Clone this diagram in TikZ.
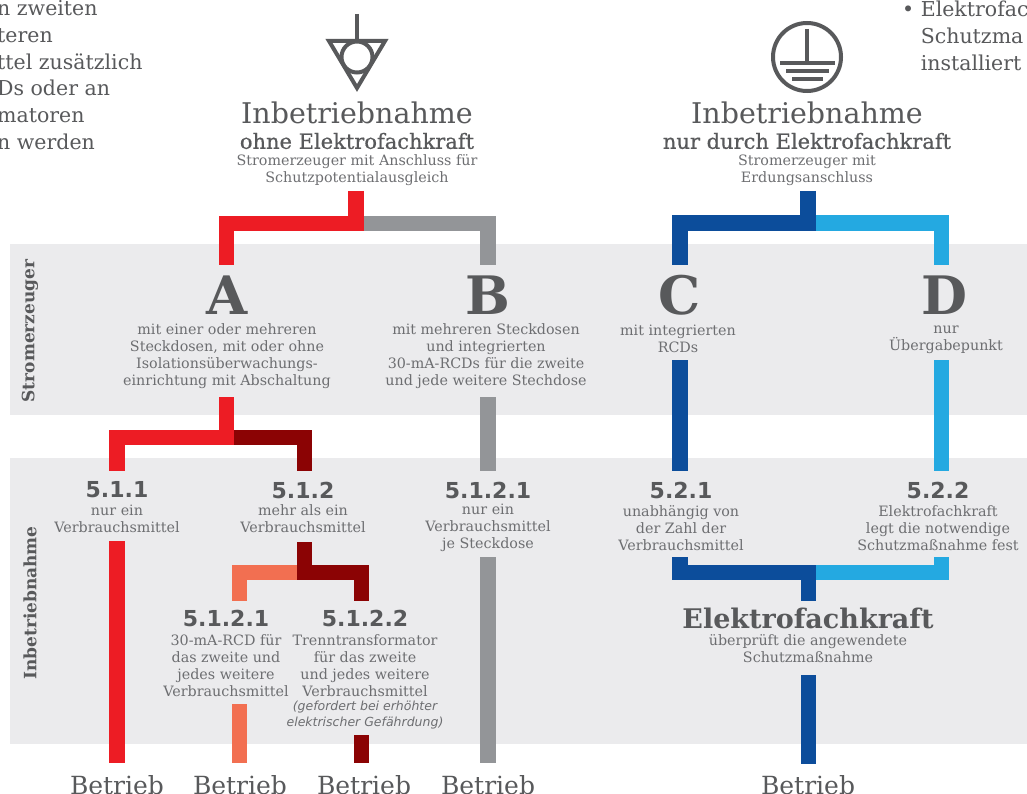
\documentclass[tikz,border=0pt]{standalone}
\usepackage{fontspec}
\setmainfont{DejaVu Serif}
\newfontfamily\numfont{DejaVu Sans}
\newfontfamily\medfont[FakeBold=0.6]{DejaVu Serif}
\definecolor{band}{HTML}{EBEBED}
\definecolor{txtdark}{HTML}{58595B}
\definecolor{txtlight}{HTML}{6D6E71}
\definecolor{cred}{HTML}{ED1C24}
\definecolor{cgray}{HTML}{939598}
\definecolor{cdred}{HTML}{8B0304}
\definecolor{csalmon}{HTML}{F26F51}
\definecolor{cdblue}{HTML}{0C4D9B}
\definecolor{clblue}{HTML}{24A9E1}
\tikzset{
  small/.style={font=\fontsize{14.3}{17}\selectfont, text=txtlight, align=center, inner sep=0pt},
  title/.style={font=\fontsize{28.5}{30}\selectfont, text=txtdark, inner sep=0pt},
  subtitle/.style={font=\medfont\fontsize{21}{22}\selectfont, text=txtdark, inner sep=0pt},
  letter/.style={font=\fontsize{53}{53}\selectfont\bfseries, text=txtdark, inner sep=0pt, anchor=base, text depth=0pt},
  num/.style={font=\numfont\bfseries\fontsize{22}{22}\selectfont, text=txtdark, inner sep=0pt},
  betr/.style={font=\fontsize{25}{26}\selectfont, text=txtdark, inner sep=0pt},
  sidelabel/.style={font=\fontsize{17}{18}\selectfont\bfseries, text=txtdark, inner sep=0pt, rotate=90},
  para/.style={font=\fontsize{20.5}{26.7}\selectfont, text=txtdark, align=left, inner sep=0pt},
  bar/.style={line width=15.5pt, line cap=butt, line join=miter},
  sym/.style={line width=4pt, draw=txtdark}
}
\begin{document}
\begin{tikzpicture}[x=1pt,y=-1pt]
\useasboundingbox (0,0) rectangle (1027,794);
% background bands
\fill[band] (10,244) rectangle (1027,415);
\fill[band] (10,458) rectangle (1027,744);

% partial paragraphs at the top edges
\node[para, anchor=west] (pl) at (-3,75) {n zweiten\\teren\\ttel zusätzlich\\Ds oder an\\matoren\\n werden};
\node[para, anchor=west] (pr) at (902,36) {• Elektrofac\\\phantom{• }Schutzma\\\phantom{• }installiert};

% symbols
\draw[sym] (357,14) -- (357,41);
\draw[sym, line join=miter] (329,41) -- (385,41) -- (357,88) -- cycle;
\draw[sym] (357,57) circle (15.5);
\draw[sym] (807,57) circle (34);
\draw[sym] (807,29) -- (807,63);
\draw[sym, line width=3.5pt] (780,63) -- (835,63);
\draw[sym, line width=3.5pt] (786,71) -- (829,71);
\draw[sym, line width=3.5pt] (792,79) -- (823,79);

% titles
\node[title] (tl1) at (357,113) {Inbetriebnahme};
\node[subtitle] (tl2) at (357,141) {ohne Elektrofachkraft};
\node[small] (tl3) at (357,170) {Stromerzeuger mit Anschluss für\\Schutzpotentialausgleich};
\node[title] (tr1) at (807,113) {Inbetriebnahme};
\node[subtitle] (tr2) at (807,141) {nur durch Elektrofachkraft};
\node[small] (tr3) at (807,170) {Stromerzeuger mit\\Erdungsanschluss};

% side labels
\node[sidelabel] (s1) at (30,331) {Stromerzeuger};
\node[sidelabel] (s2) at (30,603) {Inbetriebnahme};

% A B C D
\node[letter] (A) at (227,314) {A};
\node[letter] (B) at (488,314) {B};
\node[letter] (C) at (680,314) {C};
\node[letter] (D) at (944,314) {D};
\node[small] (At) at (227,356) {mit einer oder mehreren\\Steckdosen, mit oder ohne\\Isolationsüberwachungs-\\einrichtung mit Abschaltung};
\node[small] (Bt) at (486,356) {mit mehreren Steckdosen\\und integrierten\\30-mA-RCDs für die zweite\\und jede weitere Stechdose};
\node[small] (Ct) at (678,339) {mit integrierten\\RCDs};
\node[small] (Dt) at (946,340) {nur\\Übergabepunkt};

% level 5 labels
\node[num] (n511) at (117,490) {5.1.1};
\node[small] (n511t) at (117,519) {nur ein\\Verbrauchsmittel};
\node[num] (n512) at (303,490) {5.1.2};
\node[small] (n512t) at (303,519) {mehr als ein\\Verbrauchsmittel};
\node[num] (nB) at (488,490) {5.1.2.1};
\node[small] (nBt) at (488,528) {nur ein\\Verbrauchsmittel\\je Steckdose};
\node[num] (n521) at (681,490) {5.2.1};
\node[small] (n521t) at (681,528) {unabhängig von\\der Zahl der\\Verbrauchsmittel};
\node[num] (n522) at (938,490) {5.2.2};
\node[small] (n522t) at (938,528) {Elektrofachkraft\\legt die notwendige\\Schutzmaßnahme fest};

\node[num] (n5121) at (226,618) {5.1.2.1};
\node[small] (n5121t) at (226,666) {30-mA-RCD für\\das zweite und\\jedes weitere\\Verbrauchsmittel};
\node[num] (n5122) at (365,618) {5.1.2.2};
\node[small] (n5122t) at (365,666) {Trenntransformator\\für das zweite\\und jedes weitere\\Verbrauchsmittel};
\node[font=\numfont\itshape\fontsize{12.5}{16}\selectfont, text=txtlight, align=center, inner sep=0pt] (n5122i) at (365,715) {(gefordert bei erhöhter\\elektrischer Gefährdung)};

\node[font=\fontsize{27}{28}\selectfont\bfseries, text=txtdark, inner sep=0pt] (EF) at (808,618) {Elektrofachkraft};
\node[small] (EFt) at (808,649) {überprüft die angewendete\\Schutzmaßnahme};

% Betrieb
\node[betr] (b1) at (117,785) {Betrieb};
\node[betr] (b2) at (240,785) {Betrieb};
\node[betr] (b3) at (364,785) {Betrieb};
\node[betr] (b4) at (488,785) {Betrieb};
\node[betr] (b5) at (808,785) {Betrieb};

% connector coordinates
\coordinate (lt) at (356,191);
\coordinate (lj) at (356,223.5);
\coordinate (lja) at (363.75,223.5);
\coordinate (la1) at (226.5,223.5);
\coordinate (la2) at (226.5,265);
\coordinate (lb1) at (488,223.5);
\coordinate (lb2) at (488,265);

\coordinate (rt) at (808,191);
\coordinate (rj) at (808,223);
\coordinate (rja) at (815.75,223);
\coordinate (rc1) at (680,223);
\coordinate (rc2) at (680,265);
\coordinate (rd1) at (941.5,223);
\coordinate (rd2) at (941.5,265);

% top trees
\draw[bar, cred] (lt) -- (lj) -- (la1) -- (la2);
\draw[bar, cgray] (lja) -- (lb1) -- (lb2);
\draw[bar, cdblue] (rt) -- (rj) -- (rc1) -- (rc2);
\draw[bar, clblue] (rja) -- (rd1) -- (rd2);

% below A
\coordinate (a0) at (226.5,397);
\coordinate (aj) at (226.5,437.5);
\coordinate (aja) at (234.25,437.5);
\coordinate (a1) at (117,437.5);
\coordinate (a2) at (117,471);
\coordinate (a3) at (304.5,437.5);
\coordinate (a4) at (304.5,471);
\draw[bar, cred] (a0) -- (aj) -- (a1) -- (a2);
\draw[bar, cdred] (aja) -- (a3) -- (a4);

% below B, C, D
\draw[bar, cgray] (488,397) -- (488,471);
\draw[bar, cdblue] (680,360) -- (680,471);
\draw[bar, clblue] (941.5,360) -- (941.5,471);

% below 5.1.2
\coordinate (m0) at (304.5,542);
\coordinate (mj) at (304.5,572.5);
\coordinate (mja) at (296.75,572.5);
\coordinate (m1) at (361.5,572.5);
\coordinate (m2) at (361.5,601);
\coordinate (m3) at (239.5,572.5);
\coordinate (m4) at (239.5,601);
\draw[bar, cdred] (m0) -- (mj) -- (m1) -- (m2);
\draw[bar, csalmon] (mja) -- (m3) -- (m4);

% merge 5.2.1 / 5.2.2
\coordinate (e0) at (680,557);
\coordinate (e1) at (680,572.5);
\coordinate (ej) at (808.5,572.5);
\coordinate (e2) at (808.5,601);
\coordinate (eja) at (816.25,572.5);
\coordinate (e3) at (941.5,572.5);
\coordinate (e4) at (941.5,557);
\draw[bar, cdblue] (e0) -- (e1) -- (ej) -- (e2);
\draw[bar, clblue] (eja) -- (e3) -- (e4);

% final bars to Betrieb
\draw[bar, cred] (117,541) -- (117,763);
\draw[bar, csalmon] (239.5,704) -- (239.5,763);
\draw[bar, cdred] (361.5,735) -- (361.5,763);
\draw[bar, cgray] (488,557) -- (488,763);
\draw[bar, cdblue] (808.5,675) -- (808.5,764);
\end{tikzpicture}
\end{document}
